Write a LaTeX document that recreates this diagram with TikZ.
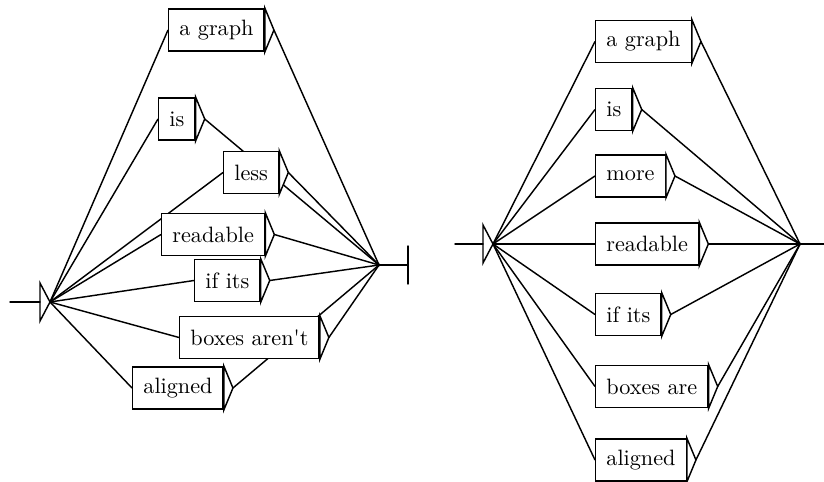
\documentclass[tikz,border=0pt]{standalone}
\usetikzlibrary{positioning, calc, backgrounds}
\tikzset{
  word/.style={draw, fill=white, line width=0.65pt, anchor=west,
    minimum height=18.9pt, inner xsep=4.8pt, inner ysep=0pt},
  link/.style={line width=0.65pt},
}
\begin{document}
\begin{tikzpicture}[x=0.45pt,y=-0.45pt,line cap=round]
  \useasboundingbox (0,0) rectangle (824,481);
  % --- Grafo di sinistra: scatole non allineate ---
  \node[word] (lag)   at (168,30)    {a graph};
  \node[word] (lis)   at (158,119)   {is};
  \node[word] (lless) at (223,172.5) {less};
  \node[word] (lread) at (161,234.5) {readable};
  \node[word] (lif)   at (194,280.5) {if its};
  \node[word] (lbox)  at (179,337.5) {boxes aren\textquotesingle t};
  \node[word] (lali)  at (132,388)   {aligned};

  % --- Grafo di destra: scatole allineate ---
  \node[word] (rag)   at (595,41.5)  {a graph};
  \node[word] (ris)   at (595,109.5) {is};
  \node[word] (rmore) at (595,176)   {more};
  \node[word] (rread) at (595,244)   {readable};
  \node[word] (rif)   at (595,314.5) {if its};
  \node[word] (rbox)  at (595,386.5) {boxes are};
  \node[word] (rali)  at (595,460)   {aligned};

  % --- punte delle scatole ---
  \foreach \b in {lag,lis,lless,lread,lif,lbox,lali,rag,ris,rmore,rread,rif,rbox,rali} {
    \coordinate (\b t) at ($(\b.east)+(9,0)$);
    \draw[link,fill=white] (\b.north east) -- (\b t) -- (\b.south east) -- cycle;
  }

  % --- stati iniziale e finale ---
  \coordinate (li) at (50,302);
  \draw[link] (li) -- ++(-10,-19) -- ++(0,38) -- cycle;
  \draw[link] ($(li)+(-10,0)$) -- ++(-30,0);
  \coordinate (lf) at (379,265);
  \fill (lf) circle (1.6);
  \draw[link] (lf) -- ++(29,0) coordinate (lfe);
  \draw[link] ($(lfe)+(0,-19)$) -- ++(0,38);

  \coordinate (ri) at (493,244);
  \draw[link] (ri) -- ++(-10,-19) -- ++(0,38) -- cycle;
  \draw[link] ($(ri)+(-10,0)$) -- ++(-28,0);
  \coordinate (rf) at (800,244);
  \fill (rf) circle (1.6);
  \draw[link] (rf) -- (824,244);

  % --- transizioni ---
  \begin{pgfonlayer}{background}
    \foreach \b in {lag,lis,lless,lread,lif,lbox,lali} {
      \draw[link] (li) -- (\b.west);
      \draw[link] (\b t) -- (lf);
    }
    \foreach \b in {rag,ris,rmore,rread,rif,rbox,rali} {
      \draw[link] (ri) -- (\b.west);
      \draw[link] (\b t) -- (rf);
    }
  \end{pgfonlayer}
\end{tikzpicture}
\end{document}
